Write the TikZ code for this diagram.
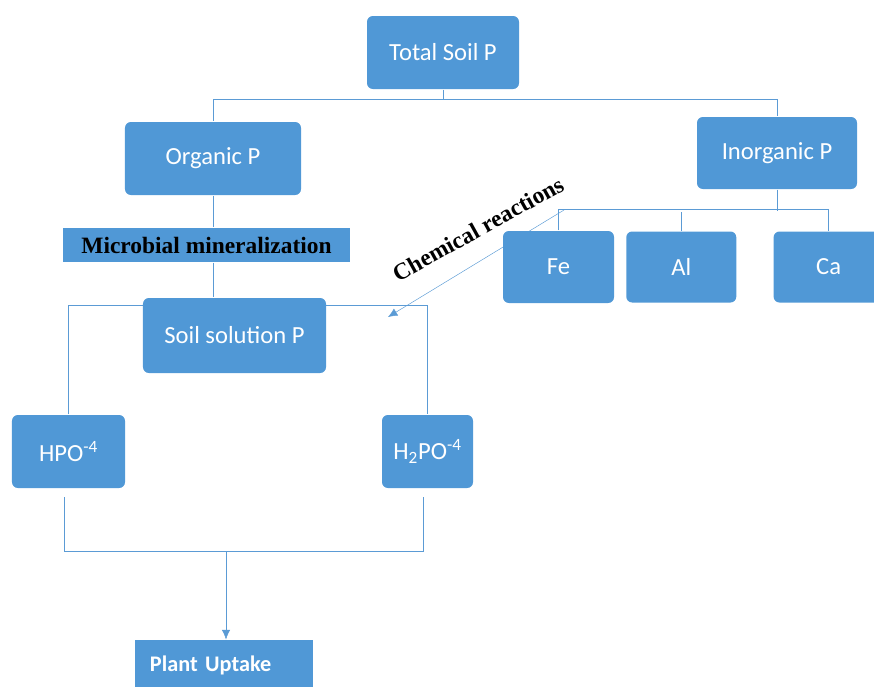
\documentclass[tikz,border=0pt]{standalone}
\usepackage{fontspec}
\setmainfont{Carlito}
\newfontfamily\reactfont{Liberation Serif}
\usepackage{xcolor}
\usetikzlibrary{arrows, arrows.meta, positioning, backgrounds}

\definecolor{boxblue}{RGB}{80,152,214}
\definecolor{lineblue}{RGB}{91,155,213}

\begin{document}
\begin{tikzpicture}[x=0.03cm,y=-0.03cm,>={Latex[length=8pt,width=7pt]},line width=1.1pt]
        \tikzstyle{block}=[rounded corners=5pt,fill=boxblue,text=white,inner sep=0pt,font=\fontsize{21}{25}\selectfont]
        \tikzstyle{flat}=[fill=boxblue,inner sep=0pt]
        \tikzstyle{link}=[draw=lineblue]
        \tikzstyle{react}=[font=\reactfont\bfseries\fontsize{20}{24}\selectfont]
        \useasboundingbox (0,0) rectangle (874,686);

        \node[block,minimum width=4.56cm,minimum height=2.19cm] (total)     at (443,52.5)  {Total Soil P};
        \node[block,minimum width=5.28cm,minimum height=2.19cm] (organic)   at (213,158.5) {Organic P};
        \node[block,minimum width=4.8cm,minimum height=2.16cm]  (inorganic) at (777,153)   {Inorganic P};
        \node[flat,react,minimum width=8.61cm,minimum height=1.02cm] (microbial) at (206.5,245) {Microbial mineralization};
        \node[block,minimum width=5.49cm,minimum height=2.25cm] (soilsol)   at (234.5,335.5) {Soil solution P};

        \node[block,minimum width=3.33cm,minimum height=2.16cm] (fe) at (558.5,267) {Fe};
        \node[block,minimum width=3.3cm,minimum height=2.13cm]  (al) [right=0.33cm of fe] {Al};
        \node[block,minimum width=3.3cm,minimum height=2.13cm]  (ca) [right=1.08cm of al] {Ca};

        \node[block,minimum width=3.39cm,minimum height=2.19cm] (hpo)  at (68.5,451.5)  {HPO\textsuperscript{-4}};
        \node[block,minimum width=2.73cm,minimum height=2.19cm] (htwo) at (427.5,451.5) {H\textsubscript{2}PO\textsuperscript{-4}};
        \node[flat,text=white,font=\bfseries\fontsize{19}{23}\selectfont,inner xsep=0.45cm,text width=4.44cm,align=left,minimum height=1.5cm] (plant) at (224,665) {Plant Uptake};

        \node[react,rotate=29] (chem) at (478,229) {Chemical reactions};

        \begin{scope}[on background layer]
            \coordinate (chemstart) at (564,210);
            \coordinate (chemend)   at (388,317);
            \coordinate (hpoout)    at (64,497);
            \coordinate (htwoout)   at (423,497);
            \coordinate (merge)     at (226,551);

            \draw[link] (total.south) -- ++(0,10) -| (organic.north);
            \draw[link] (total.south) ++(0,10) -| (inorganic.north);
            \draw[link] (organic.south) -- (organic.south |- microbial.north);
            \draw[link] (organic.south |- microbial.south) -- (organic.south |- soilsol.north);

            \draw[link] (inorganic.south) -- ++(0,21);
            \draw[link] (fe.north) -- ++(0,-21) -| (ca.north);
            \draw[link] (al.north) -- ++(0,-19);
            \draw[link,->] (chemstart) -- (chemend);

            \draw[link] (hpo.north) |- (soilsol.north |- 0,305) -| (htwo.north);
            \draw[link] (hpoout) |- (merge) -| (htwoout);
            \draw[link,->] (merge) -- (merge |- plant.north);
        \end{scope}
    \end{tikzpicture}
\end{document}
